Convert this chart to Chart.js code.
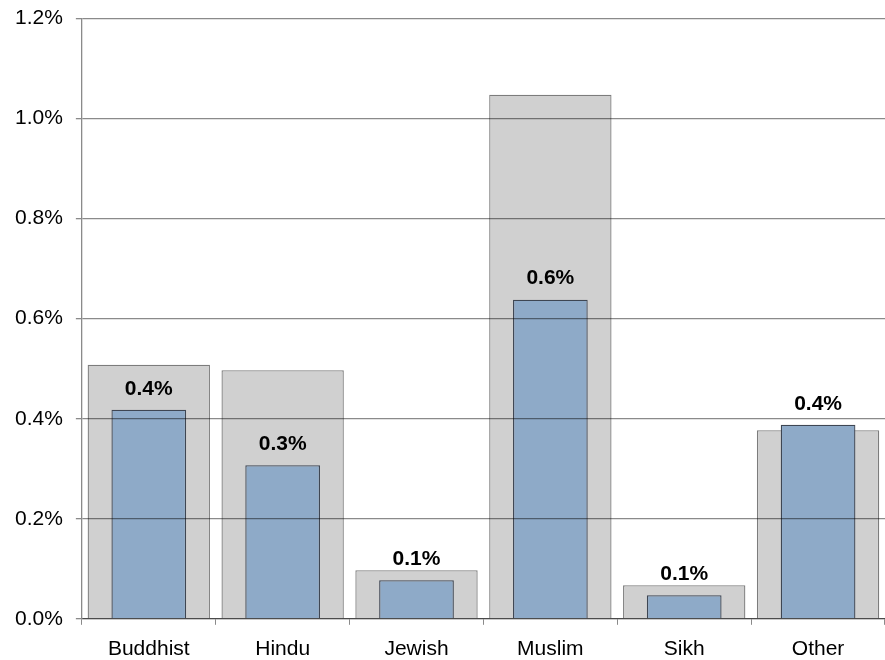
<!DOCTYPE html>
<html>
<head>
<meta charset="utf-8">
<script src="https://cdn.jsdelivr.net/npm/chart.js@4"></script>
<style>
  html, body { margin: 0; padding: 0; background: #fff; overflow: hidden; }
  #wrap { width: 885px; height: 667px; margin-top: -7px; position: relative; }
</style>
</head>
<body>
<div id="wrap"><canvas id="religionChart"></canvas></div>
<script>
// categories and values (percent)
const religions = ["Buddhist", "Hindu", "Jewish", "Muslim", "Sikh", "Other"];
const outerValues = [0.508, 0.497, 0.097, 1.048, 0.067, 0.377];
const innerValues = [0.418, 0.307, 0.077, 0.638, 0.047, 0.388];
const innerLabels = ["0.4%", "0.3%", "0.1%", "0.6%", "0.1%", "0.4%"];

Chart.defaults.font.family = "'Liberation Sans', Arial, sans-serif";
Chart.defaults.color = "#000";

// draws the bold labels above the blue bars
const barLabels = {
    id: "barLabels",
    afterDatasetsDraw(chart) {
        const ctx = chart.ctx;
        const meta = chart.getDatasetMeta(0);
        ctx.save();
        ctx.font = "bold 21px 'Liberation Sans', Arial, sans-serif";
        ctx.fillStyle = "#000";
        ctx.textAlign = "center";
        ctx.textBaseline = "middle";
        meta.data.forEach(function (bar, i) {
            ctx.fillText(innerLabels[i], bar.x, bar.y - 21);
        });
        ctx.restore();
    }
};

new Chart(document.getElementById("religionChart"), {
    type: "bar",
    data: {
        labels: religions,
        datasets: [
            {
                data: innerValues,
                backgroundColor: "#8eaac8",
                borderColor: "#3e4653",
                borderWidth: 1.3,
                barPercentage: 0.558,
                categoryPercentage: 1,
                grouped: false,
                order: 0
            },
            {
                data: outerValues,
                backgroundColor: "#d0d0d0",
                borderColor: "#7c7c7c",
                borderWidth: 1.3,
                barPercentage: 0.914,
                categoryPercentage: 1,
                grouped: false,
                order: 1
            }
        ]
    },
    options: {
        responsive: true,
        maintainAspectRatio: false,
        animation: false,
        layout: { padding: { top: 0, right: 0, bottom: -14, left: 2 } },
        plugins: {
            legend: { display: false },
            tooltip: { enabled: false }
        },
        scales: {
            x: {
                grid: {
                    display: true,
                    drawOnChartArea: false,
                    drawTicks: true,
                    tickLength: 6,
                    color: "#8a8a8a"
                },
                border: { color: "#8a8a8a", width: 1.3 },
                ticks: { font: { size: 21 }, padding: 12 }
            },
            y: {
                min: 0,
                max: 1.2,
                grid: {
                    color: "rgba(0,0,0,0.46)",
                    lineWidth: 1.3,
                    tickLength: 6,
                    z: 1
                },
                border: { color: "#8a8a8a", width: 1.3, z: 1 },
                ticks: {
                    stepSize: 0.2,
                    padding: 13,
                    font: { size: 21 },
                    callback: function (v) { return v.toFixed(1) + "%"; }
                }
            }
        }
    },
    plugins: [barLabels]
});
</script>
</body>
</html>
